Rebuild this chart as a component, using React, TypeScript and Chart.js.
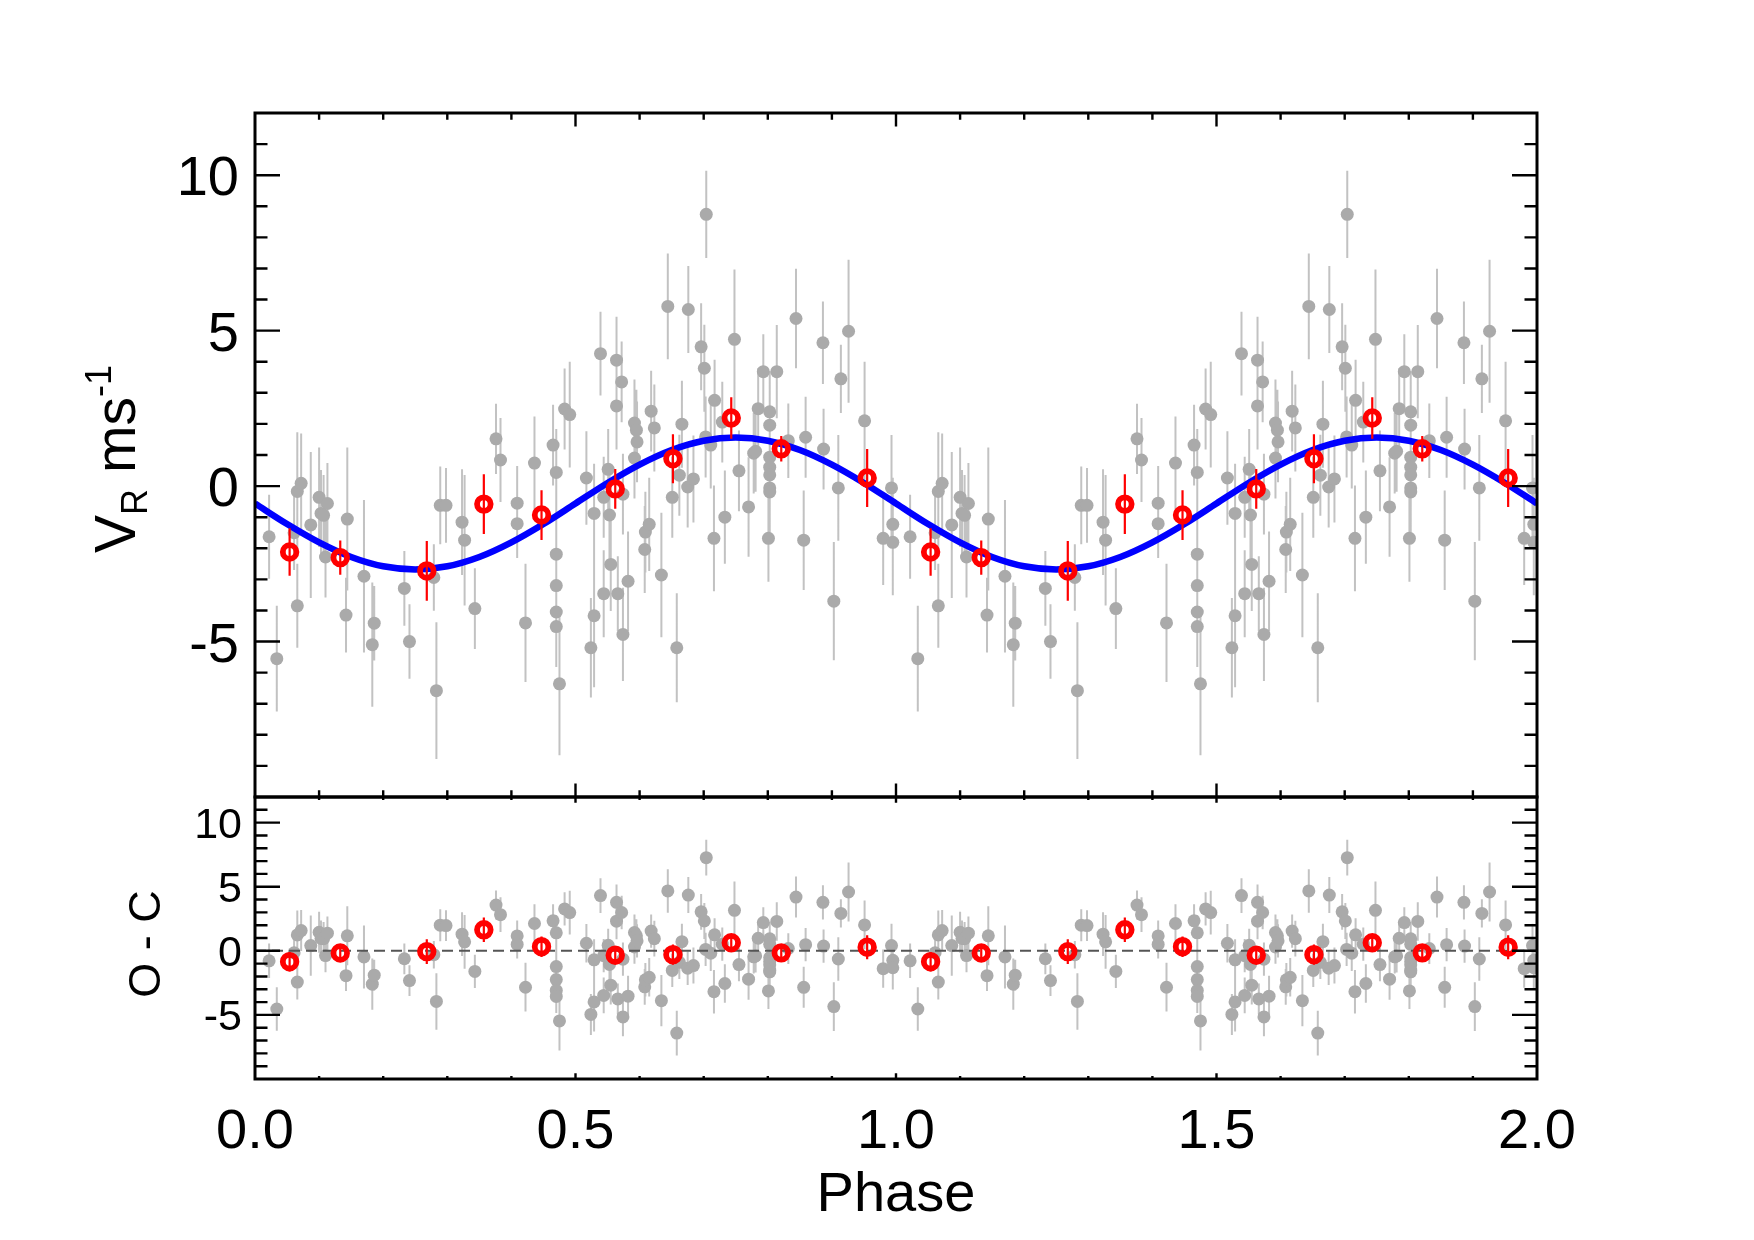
import React, { useEffect, useRef } from "react";
import { Chart, registerables } from "chart.js";

Chart.register(...registerables);

const FONT = '"Liberation Sans", Arial, Helvetica, sans-serif';

// Individual radial-velocity measurements folded on the orbital period (one cycle)
const obsPhase = [
  0.022, 0.034, 0.061, 0.066, 0.066, 0.072, 0.087, 0.100, 0.103, 0.107,
  0.110, 0.113, 0.142, 0.144, 0.170, 0.183, 0.186, 0.233, 0.241, 0.279,
  0.283, 0.289, 0.298, 0.323, 0.327, 0.343, 0.376, 0.383, 0.409, 0.409,
  0.422, 0.436, 0.465, 0.470, 0.470, 0.470, 0.470, 0.470, 0.475, 0.483,
  0.491, 0.517, 0.524, 0.529, 0.529, 0.539, 0.544, 0.544, 0.551, 0.553,
  0.555, 0.564, 0.564, 0.566, 0.572, 0.574, 0.574, 0.582, 0.592, 0.592,
  0.595, 0.596, 0.608, 0.609, 0.615, 0.618, 0.623, 0.634, 0.644, 0.651,
  0.658, 0.662, 0.666, 0.675, 0.676, 0.684, 0.696, 0.701, 0.703, 0.704,
  0.711, 0.716, 0.717, 0.729, 0.733, 0.748, 0.755, 0.770, 0.778, 0.781,
  0.785, 0.793, 0.801, 0.803, 0.803, 0.803, 0.803, 0.803, 0.803, 0.803,
  0.814, 0.832, 0.844, 0.856, 0.859, 0.886, 0.887, 0.903, 0.910, 0.914,
  0.926, 0.951, 0.980, 0.993, 0.995, 0.995,
];

const obsRV = [
  -1.63, -5.55, -1.50, -0.17, -3.85, 0.09, -1.25, -0.36, -0.88, -0.94,
  -2.28, -0.56, -4.15, -1.06, -2.90, -5.10, -4.41, -3.29, -5.00, -2.94,
  -6.58, -0.62, -0.62, -1.16, -1.74, -3.94, 1.52, 0.84, -0.55, -1.21,
  -4.40, 0.74, 1.32, 0.44, -2.19, -3.20, -4.05, -4.52, -6.36, 2.48,
  2.30, 0.26, -5.20, -0.88, -4.17, 4.26, -0.36, -3.46, 0.54, -0.93,
  -2.52, 4.05, 2.58, -3.46, 3.35, -0.26, -4.77, -3.06, 2.03, 0.90,
  1.80, 1.42, -2.04, -1.48, -1.23, 2.41, 1.87, -2.86, 5.78, -0.36,
  -5.20, 0.35, 1.99, -0.03, 5.68, 0.23, 4.48, 3.79, 1.58, 8.74,
  1.32, -1.68, 2.76, 2.06, -1.00, 4.72, 0.49, -0.67, 1.06, 1.12,
  2.49, 3.68, -1.68, 2.39, 1.96, 0.93, 0.61, 0.36, -0.06, -0.19,
  3.68, 1.46, 5.39, -1.74, 1.57, 4.61, 1.19, -3.70, -0.06, 3.45,
  4.98, 2.10, -1.68, -0.06, -1.23, -1.81,
];

const obsErr = [
  1.35, 1.70, 1.20, 1.90, 1.35, 1.60, 2.35, 1.60, 1.40, 1.30,
  1.30, 1.30, 1.20, 2.30, 2.45, 2.00, 1.20, 1.20, 1.20, 1.07,
  2.20, 1.25, 1.20, 1.70, 2.10, 1.30, 1.13, 1.35, 1.20, 1.10,
  1.90, 1.50, 1.30, 1.40, 1.30, 1.30, 1.30, 1.30, 2.30, 1.30,
  1.70, 1.50, 1.60, 1.60, 2.30, 1.35, 1.30, 1.40, 1.30, 1.40,
  1.50, 1.40, 1.40, 1.20, 1.30, 1.30, 1.50, 1.60, 1.40, 1.30,
  1.30, 1.30, 1.40, 1.30, 1.50, 1.30, 1.40, 2.00, 1.70, 1.30,
  1.75, 1.30, 1.40, 1.30, 1.40, 1.40, 1.40, 1.40, 1.30, 1.40,
  1.40, 1.70, 1.30, 1.30, 1.50, 2.25, 1.30, 1.60, 1.30, 1.30,
  1.30, 1.20, 1.40, 1.30, 1.30, 1.30, 1.30, 1.30, 1.30, 1.30,
  1.50, 1.20, 1.60, 1.60, 1.30, 1.33, 1.30, 1.90, 1.70, 1.10,
  2.30, 1.90, 1.50, 1.70, 1.50, 1.70,
];

// Observed minus computed residuals of the same measurements
const obsOC = [
  -0.78, -4.54, -0.15, 1.24, -2.44, 1.58, 0.41, 1.45, 0.96, 0.94,
  -0.37, 1.38, -1.94, 1.17, -0.48, -2.60, -1.90, -0.62, -2.32, -0.30,
  -3.95, 2.00, 1.97, 1.30, 0.70, -1.61, 3.57, 2.82, 1.16, 0.50,
  -2.84, 2.13, 2.34, 1.40, -1.23, -2.24, -3.09, -3.56, -5.47, 3.27,
  2.98, 0.59, -4.96, -0.70, -3.99, 4.31, -0.38, -3.48, 0.43, -1.06,
  -2.68, 3.78, 2.31, -3.75, 2.99, -0.65, -5.16, -3.54, 1.43, 0.30,
  1.17, 0.78, -2.81, -2.26, -2.07, 1.54, 0.95, -3.89, 4.67, -1.53,
  -6.42, -0.90, 0.71, -1.36, 4.35, -1.15, 3.04, 2.33, 0.11, 7.27,
  -0.18, -3.19, 1.25, 0.52, -2.55, 3.16, -1.07, -2.21, -0.47, -0.40,
  0.98, 2.20, -3.13, 0.94, 0.51, -0.52, -0.84, -1.09, -1.51, -1.64,
  2.29, 0.18, 4.19, -2.85, 0.48, 3.78, 0.37, -4.35, -0.64, 2.92,
  4.59, 2.02, -1.39, 0.41, -0.74, -1.32,
];

// Phase-binned averages
const binPhase = [0.054, 0.133, 0.268, 0.357, 0.447, 0.562, 0.652, 0.743, 0.821, 0.955];
const binRV = [-2.12, -2.30, -2.73, -0.58, -0.93, -0.09, 0.88, 2.19, 1.20, 0.26];
const binErr = [0.76, 0.55, 0.96, 0.96, 0.80, 0.64, 0.79, 0.67, 0.41, 0.93];
const binOC = [-0.85, -0.17, -0.06, 1.64, 0.32, -0.34, -0.30, 0.63, -0.16, 0.28];

// Orbital solution sampled over one cycle
const modelPhase = [
  0.00, 0.05, 0.10, 0.15, 0.20, 0.25, 0.30, 0.35, 0.40, 0.45, 0.50,
  0.55, 0.60, 0.65, 0.70, 0.75, 0.80, 0.85, 0.90, 0.95, 1.00,
];
const modelRV = [
  -0.56, -1.22, -1.81, -2.28, -2.58, -2.68, -2.58, -2.28, -1.81, -1.22, -0.56,
  0.10, 0.69, 1.16, 1.46, 1.56, 1.46, 1.16, 0.69, 0.10, -0.56,
];

// Axes
const phaseTicks = [0, 0.5, 1, 1.5, 2];
const phaseTickLabels = ["0.0", "0.5", "1.0", "1.5", "2.0"];
const rvTickValues = [10, 5, 0, -5];
const ocTickValues = [10, 5, 0, -5];
const zeroLinePhase = [0, 2];
const zeroLineValue = [0, 0];

const CYCLES = [0, 1];

type Pt = { x: number; y: number; e: number };

function twoCycles(phase: number[], val: number[], err?: number[]): Pt[] {
  const out: Pt[] = [];
  for (const c of CYCLES) {
    phase.forEach((p, i) => {
      // the end of the first cycle is also the start of the second
      if (c > 0 && p === 0 && !err) return;
      out.push({ x: p + c, y: val[i], e: err ? err[i] : 0 });
    });
  }
  return out;
}

const errorBarPlugin = {
  id: "errorBars",
  beforeDatasetDraw(chart: any, args: any) {
    const ds: any = chart.data.datasets[args.index];
    if (!ds.errorBarColor) return;
    const { ctx, chartArea: a } = chart;
    const ys = chart.scales.y;
    ctx.save();
    ctx.beginPath();
    ctx.rect(a.left, a.top, a.right - a.left, a.bottom - a.top);
    ctx.clip();
    ctx.strokeStyle = ds.errorBarColor;
    ctx.lineWidth = ds.errorBarWidth;
    ctx.beginPath();
    args.meta.data.forEach((el: any, i: number) => {
      const r = ds.data[i];
      ctx.moveTo(el.x, ys.getPixelForValue(r.y + r.e));
      ctx.lineTo(el.x, ys.getPixelForValue(r.y - r.e));
    });
    ctx.stroke();
    ctx.restore();
  },
};

type FrameCfg = {
  yMin: number;
  yMax: number;
  yTicks: number[];
  yFont: number;
  yLabelRight: number;
  xMajorLen: number;
  xMinorLen: number;
  yMajorLen: number;
  yMinorLen: number;
  xLabels: boolean;
  drawTitles: (ctx: CanvasRenderingContext2D) => void;
};

function framePlugin(cfg: FrameCfg) {
  return {
    id: "panelFrame",
    afterDraw(chart: any) {
      const { ctx, chartArea: a, scales } = chart;
      const xs = scales.x;
      const ys = scales.y;
      ctx.save();
      ctx.strokeStyle = "#000";
      ctx.lineCap = "butt";
      ctx.lineWidth = 2.4;
      ctx.beginPath();
      // inward ticks on bottom and top
      for (let i = 1; i < 20; i++) {
        const px = xs.getPixelForValue(i / 10);
        const len = i % 5 === 0 ? cfg.xMajorLen : cfg.xMinorLen;
        ctx.moveTo(px, a.bottom);
        ctx.lineTo(px, a.bottom - len);
        ctx.moveTo(px, a.top);
        ctx.lineTo(px, a.top + len);
      }
      // inward ticks on left and right
      for (let v = cfg.yMin + 1; v < cfg.yMax; v++) {
        const py = ys.getPixelForValue(v);
        const len = cfg.yTicks.includes(v) ? cfg.yMajorLen : cfg.yMinorLen;
        ctx.moveTo(a.left, py);
        ctx.lineTo(a.left + len, py);
        ctx.moveTo(a.right, py);
        ctx.lineTo(a.right - len, py);
      }
      ctx.stroke();
      ctx.lineWidth = 3;
      ctx.strokeRect(a.left, a.top, a.right - a.left, a.bottom - a.top);

      ctx.fillStyle = "#000";
      ctx.textBaseline = "alphabetic";
      ctx.textAlign = "right";
      ctx.font = `${cfg.yFont}px ${FONT}`;
      for (const v of cfg.yTicks) {
        const py = ys.getPixelForValue(v);
        ctx.fillText(String(v), cfg.yLabelRight, py + 0.358 * cfg.yFont);
      }
      if (cfg.xLabels) {
        ctx.textAlign = "center";
        ctx.font = `56px ${FONT}`;
        phaseTicks.forEach((t, i) => {
          ctx.fillText(phaseTickLabels[i], xs.getPixelForValue(t), 1148);
        });
      }
      cfg.drawTitles(ctx);
      ctx.restore();
    },
  };
}

function drawRVTitle(ctx: CanvasRenderingContext2D) {
  const parts = [
    { t: "V", size: 57, dy: 0 },
    { t: "R", size: 36, dy: 12 },
    { t: " ms", size: 57, dy: 0 },
    { t: "-1", size: 36, dy: -24 },
  ];
  ctx.save();
  ctx.translate(135, 459);
  ctx.rotate(-Math.PI / 2);
  ctx.textAlign = "left";
  ctx.textBaseline = "alphabetic";
  const widths = parts.map((p) => {
    ctx.font = `${p.size}px ${FONT}`;
    return ctx.measureText(p.t).width;
  });
  let x = -widths.reduce((s, w) => s + w, 0) / 2;
  parts.forEach((p, i) => {
    ctx.font = `${p.size}px ${FONT}`;
    ctx.fillText(p.t, x, p.dy);
    x += widths[i];
  });
  ctx.restore();
}

function drawResidualTitles(ctx: CanvasRenderingContext2D) {
  ctx.save();
  ctx.translate(160, 944);
  ctx.rotate(-Math.PI / 2);
  ctx.textAlign = "center";
  ctx.textBaseline = "alphabetic";
  ctx.font = `45px ${FONT}`;
  ctx.fillText("O - C", 0, 0);
  ctx.restore();
  ctx.textAlign = "center";
  ctx.font = `56px ${FONT}`;
  ctx.fillText("Phase", 896, 1211);
}

const GREY_DOT = "#aaaaaa";
const GREY_BAR = "#c2c2c2";
const RED = "#ff0000";
const BLUE = "#0000ff";

function scalesFor(yMin: number, yMax: number) {
  return {
    x: { type: "linear", min: 0, max: 2, display: false },
    y: { type: "linear", min: yMin, max: yMax, display: false },
  };
}

function greyDataset(data: Pt[]) {
  return {
    type: "scatter",
    data,
    order: 3,
    clip: 0,
    pointRadius: 6.5,
    pointHoverRadius: 6.5,
    pointBorderWidth: 0,
    pointBackgroundColor: GREY_DOT,
    pointBorderColor: GREY_DOT,
    errorBarColor: GREY_BAR,
    errorBarWidth: 2,
  };
}

function redDataset(data: Pt[]) {
  return {
    type: "scatter",
    data,
    order: 0,
    clip: 0,
    pointRadius: 6.8,
    pointHoverRadius: 6.8,
    pointBorderWidth: 5.8,
    pointBackgroundColor: "rgba(0,0,0,0)",
    pointBorderColor: RED,
    errorBarColor: RED,
    errorBarWidth: 2.2,
  };
}

export default function App() {
  const topRef = useRef<HTMLCanvasElement>(null);
  const botRef = useRef<HTMLCanvasElement>(null);

  useEffect(() => {
    const common = {
      responsive: false,
      animation: false,
      devicePixelRatio: 1,
      events: [],
      plugins: { legend: { display: false }, tooltip: { enabled: false } },
    };

    const top = new Chart(topRef.current as HTMLCanvasElement, {
      type: "scatter",
      data: {
        datasets: [
          redDataset(twoCycles(binPhase, binRV, binErr)),
          {
            type: "line",
            data: twoCycles(modelPhase, modelRV),
            order: 1,
            clip: 0,
            borderColor: BLUE,
            borderWidth: 6.5,
            pointRadius: 0,
            cubicInterpolationMode: "monotone",
            fill: false,
          },
          greyDataset(twoCycles(obsPhase, obsRV, obsErr)),
        ] as any,
      },
      options: {
        ...common,
        layout: { padding: { left: 255, right: 217, top: 113, bottom: 443 } },
        scales: scalesFor(-10, 12),
      } as any,
      plugins: [
        errorBarPlugin,
        framePlugin({
          yMin: -10,
          yMax: 12,
          yTicks: rvTickValues,
          yFont: 56,
          yLabelRight: 239,
          xMajorLen: 13.5,
          xMinorLen: 6.7,
          yMajorLen: 25,
          yMinorLen: 12.5,
          xLabels: false,
          drawTitles: drawRVTitle,
        }),
      ],
    });

    const bottom = new Chart(botRef.current as HTMLCanvasElement, {
      type: "scatter",
      data: {
        datasets: [
          redDataset(twoCycles(binPhase, binOC, binErr)),
          {
            type: "line",
            data: zeroLinePhase.map((p, i) => ({ x: p, y: zeroLineValue[i] })),
            order: 1,
            clip: 0,
            borderColor: "#555555",
            borderWidth: 2,
            borderDash: [11, 6],
            pointRadius: 0,
            fill: false,
          },
          greyDataset(twoCycles(obsPhase, obsOC, obsErr)),
        ] as any,
      },
      options: {
        ...common,
        layout: { padding: { left: 255, right: 217, top: 797, bottom: 161 } },
        scales: scalesFor(-10, 12),
      } as any,
      plugins: [
        errorBarPlugin,
        framePlugin({
          yMin: -10,
          yMax: 12,
          yTicks: ocTickValues,
          yFont: 43,
          yLabelRight: 242,
          xMajorLen: 5.7,
          xMinorLen: 2.9,
          yMajorLen: 25,
          yMinorLen: 12.5,
          xLabels: true,
          drawTitles: drawResidualTitles,
        }),
      ],
    });

    return () => {
      top.destroy();
      bottom.destroy();
    };
  }, []);

  const canvasStyle: React.CSSProperties = {
    position: "absolute",
    left: 0,
    top: 0,
    width: 1754,
    height: 1240,
  };

  return (
    <div
      style={{
        position: "absolute",
        left: 0,
        top: 0,
        width: 1754,
        height: 1240,
        background: "#ffffff",
        overflow: "hidden",
      }}
    >
      <canvas ref={topRef} width={1754} height={1240} style={canvasStyle} />
      <canvas ref={botRef} width={1754} height={1240} style={canvasStyle} />
    </div>
  );
}
